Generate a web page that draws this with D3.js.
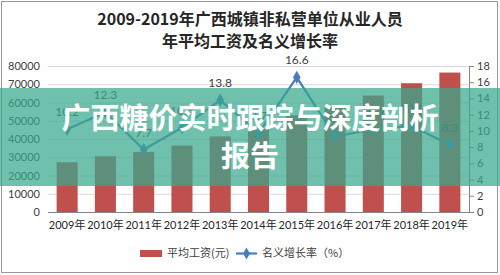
<!DOCTYPE html>
<html>
<head>
<meta charset="utf-8">
<script src="https://cdn.jsdelivr.net/npm/d3@7"></script>
<style>
  body { margin: 0; background: #fff; }
  text { font-family: Lato, "Noto Sans CJK SC", sans-serif; }
</style>
</head>
<body>
<div id="chart"></div>
<script>
// Data
const years = ["2009年","2010年","2011年","2012年","2013年","2014年","2015年","2016年","2017年","2018年","2019年"];
const wages = [27230, 30580, 32940, 36390, 41390, 45420, 52980, 57880, 63820, 70560, 76400];
const growth = [10.2, 12.3, 7.7, 10.4, 13.8, 9.7, 16.6, 9.3, 10.2, 10.6, 8.3];
const leftTicks = [0, 10000, 20000, 30000, 40000, 50000, 60000, 70000, 80000];
const rightTicks = [0, 2, 4, 6, 8, 10, 12, 14, 16, 18];
const titleLines = ["2009-2019年广西城镇非私营单位从业人员", "年平均工资及名义增长率"];
const bannerLines = ["广西糖价实时跟踪与深度剖析", "报告"];

const W = 500, H = 275;
const plot = {left: 48, right: 469, top: 66, bottom: 212};

let svg = d3.select("#chart").append("svg")
  .attr("width", W).attr("height", H);

// background + frame
svg.append("rect").attr("x", 1.5).attr("y", 1.5)
  .attr("width", W - 4).attr("height", H - 4)
  .attr("fill", "#fff").attr("stroke", "#999");

// Title
svg.selectAll(".title")
  .data(titleLines)
  .enter().append("text")
    .attr("x", 250)
    .attr("y", (d, i) => 25 + i * 22)
    .attr("text-anchor", "middle")
    .attr("font-size", "16px")
    .attr("font-weight", "bold")
    .attr("fill", "#262626")
    .style("font-family", "'Noto Sans CJK SC', sans-serif")
    .text(d => d);

// Scales
let x = d3.scaleBand().domain(years)
  .range([plot.left, plot.right])
  .paddingInner(0.45).paddingOuter(0.225);
let yL = d3.scaleLinear().domain([0, 80000]).range([plot.bottom, plot.top]);
let yR = d3.scaleLinear().domain([0, 18]).range([plot.bottom, plot.top]);

// Gridlines
svg.append("g").selectAll("line")
  .data(leftTicks.slice(1))
  .enter().append("line")
    .attr("x1", plot.left).attr("x2", plot.right)
    .attr("y1", d => yL(d) + 0.5).attr("y2", d => yL(d) + 0.5)
    .attr("stroke", "#d9d9d9");

// Left axis
let axL = svg.append("g")
  .attr("transform", "translate(" + plot.left + ",0)")
  .call(d3.axisLeft(yL).tickValues(leftTicks).tickSize(0).tickPadding(8).tickFormat(d3.format("d")));
axL.select(".domain").remove();
axL.selectAll("text").attr("font-size", "11px").attr("fill", "#404040")
  .style("font-family", "Lato, sans-serif");

// Right axis
let axR = svg.append("g")
  .attr("transform", "translate(" + plot.right + ",0)")
  .call(d3.axisRight(yR).tickValues(rightTicks).tickSize(5).tickPadding(3));
axR.select(".domain").attr("stroke", "#868686");
axR.selectAll(".tick line").attr("stroke", "#868686");
axR.selectAll("text").attr("font-size", "11px").attr("fill", "#404040")
  .style("font-family", "Lato, sans-serif");

// Bars
svg.append("g").selectAll("rect")
  .data(wages)
  .enter().append("rect")
    .attr("x", (d, i) => x(years[i]))
    .attr("y", d => yL(d))
    .attr("width", x.bandwidth())
    .attr("height", d => plot.bottom - yL(d))
    .attr("fill", "#c0504d");

// X axis baseline
svg.append("line")
  .attr("x1", plot.left).attr("x2", plot.right)
  .attr("y1", plot.bottom + 0.5).attr("y2", plot.bottom + 0.5)
  .attr("stroke", "#868686");

// X labels
svg.append("g").selectAll("text")
  .data(years)
  .enter().append("text")
    .attr("x", d => x(d) + x.bandwidth() / 2)
    .attr("y", 229)
    .attr("text-anchor", "middle")
    .attr("font-size", "11px")
    .attr("fill", "#262626")
    .text(d => d);

// Growth line
let cx = (d, i) => x(years[i]) + x.bandwidth() / 2;
svg.append("path")
  .datum(growth)
  .attr("fill", "none")
  .attr("stroke", "#4a7ebb")
  .attr("stroke-width", 2.2)
  .attr("d", d3.line().x(cx).y(d => yR(d)));

svg.append("g").selectAll("path")
  .data(growth)
  .enter().append("path")
    .attr("transform", (d, i) => "translate(" + cx(d, i) + "," + yR(d) + ")")
    .attr("d", d3.symbol().type(d3.symbolDiamond).size(50))
    .attr("fill", "#4a7ebb");

svg.append("g").selectAll("text")
  .data(growth)
  .enter().append("text")
    .attr("x", cx)
    .attr("y", d => yR(d) - 13)
    .attr("text-anchor", "middle")
    .attr("font-size", "12px")
    .attr("fill", "#404040")
    .text(d => d3.format(".1f")(d));

// Legend
let lg = svg.append("g");
lg.append("rect").attr("x", 140).attr("y", 250).attr("width", 22).attr("height", 7).attr("fill", "#c0504d");
lg.append("text").attr("x", 167).attr("y", 257).attr("font-size", "11px").attr("fill", "#404040")
  .style("font-family", "'Noto Sans CJK SC', sans-serif").text("平均工资(元)");
lg.append("line").attr("x1", 236).attr("x2", 257).attr("y1", 253.5).attr("y2", 253.5)
  .attr("stroke", "#4a7ebb").attr("stroke-width", 2.2);
lg.append("path").attr("transform", "translate(246.5,253.5)")
  .attr("d", d3.symbol().type(d3.symbolDiamond).size(40)).attr("fill", "#4a7ebb");
lg.append("text").attr("x", 262).attr("y", 257).attr("font-size", "11px").attr("fill", "#404040")
  .style("font-family", "'Noto Sans CJK SC', sans-serif").text("名义增长率（%）");

// Banner overlay
svg.append("rect")
  .attr("x", 0).attr("y", 88).attr("width", W).attr("height", 98)
  .attr("fill", "rgb(56,168,142)").attr("opacity", 0.72);

svg.append("g").selectAll("text")
  .data(bannerLines)
  .enter().append("text")
    .attr("x", 250)
    .attr("y", (d, i) => 129 + i * 38)
    .attr("text-anchor", "middle")
    .attr("font-size", "29px")
    .attr("font-weight", "bold")
    .attr("fill", "#fff")
    .style("font-family", "'Noto Sans CJK SC', sans-serif")
    .text(d => d);
</script>
</body>
</html>
